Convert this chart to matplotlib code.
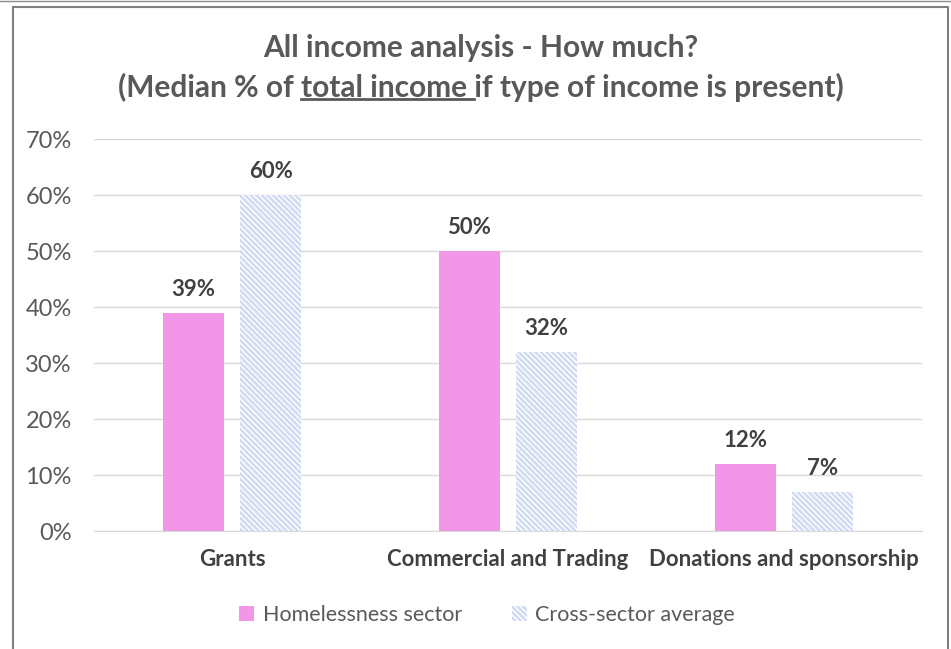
import numpy as np
import matplotlib
matplotlib.use("Agg")
import matplotlib.pyplot as plt
from matplotlib.lines import Line2D

# -------------------------------
# Data
# -------------------------------
categories = ["Grants", "Commercial and Trading", "Donations and sponsorship"]
homelessness = [0.39, 0.50, 0.12]
cross_sector = [0.60, 0.32, 0.07]
series_names = ["Homelessness sector", "Cross-sector average"]
yticks = [0, 0.1, 0.2, 0.3, 0.4, 0.5, 0.6, 0.7]

pink = "#F297E8"
hatch_col = "#D0DBF1"
text_col = "#595959"
dark_col = "#404040"

plt.rcParams["font.family"] = ["Lato", "DejaVu Sans"]
plt.rcParams["hatch.linewidth"] = 1.8
plt.rcParams["hatch.color"] = hatch_col

fig = plt.figure(figsize=(9.51, 6.49), dpi=100)
ax = fig.add_axes([94 / 951, 1 - 531 / 649, 828 / 951, 392 / 649])

x = np.arange(len(categories))
w = 0.22
gap = 0.06
b1 = ax.bar(x - (w + gap) / 2, homelessness, w, color=pink, linewidth=0,
            label=series_names[0])
b2 = ax.bar(x + (w + gap) / 2, cross_sector, w, facecolor="white",
            edgecolor=hatch_col, hatch="\\\\\\\\\\\\", linewidth=0,
            label=series_names[1])

for bars, vals in [(b1, homelessness), (b2, cross_sector)]:
    for r, v in zip(bars, vals):
        ax.text(r.get_x() + r.get_width() / 2, v + 0.023, f"{v:.0%}",
                ha="center", va="bottom", fontsize=16, fontweight="bold",
                color=dark_col)

ax.set_xlim(-0.5, len(categories) - 0.5)
ax.set_ylim(0, 0.7)
ax.set_yticks(yticks)
ax.set_yticklabels([f"{t:.0%}" for t in yticks])
ax.set_xticks(x)
ax.set_xticklabels(categories, fontweight="bold", fontsize=16, color=dark_col)
ax.tick_params(axis="y", length=0, pad=16, labelsize=17, labelcolor=text_col)
ax.tick_params(axis="x", length=0, pad=13)
ax.yaxis.grid(True, color="#D9D9D9", linewidth=1)
ax.set_axisbelow(True)
for s in ["top", "right", "left"]:
    ax.spines[s].set_visible(False)
ax.spines["bottom"].set_color("#D9D9D9")

# -------------------------------
# Title with underlined part
# -------------------------------
cx = 481 / 951
tsize = 21.5
fig.text(cx, 1 - 48 / 649, "All income analysis - How much?", ha="center",
         va="center", fontsize=tsize, fontweight="bold", color=text_col)
line2 = "(Median % of total income if type of income is present)"
t2 = fig.text(cx, 1 - 87 / 649, line2, ha="center", va="center",
              fontsize=tsize, fontweight="bold", color=text_col)
fig.canvas.draw()
r = fig.canvas.get_renderer()
full = t2.get_window_extent(r)
tmp1 = fig.text(0, 0, "(Median % of ", fontsize=tsize, fontweight="bold")
tmp2 = fig.text(0, 0, "(Median % of total income ", fontsize=tsize, fontweight="bold")
w1 = tmp1.get_window_extent(r).width
w2 = tmp2.get_window_extent(r).width
tmp1.remove()
tmp2.remove()
W, H = fig.bbox.width, fig.bbox.height
uy = (full.y0 + 3) / H
fig.add_artist(Line2D([(full.x0 + w1) / W, (full.x0 + w2) / W], [uy, uy],
                      color=text_col, linewidth=2))

# -------------------------------
# Legend
# -------------------------------
fig.legend(handles=[b1, b2], loc="center", bbox_to_anchor=(487 / 951, 1 - 615 / 649),
           ncol=2, frameon=False, fontsize=15.5, labelcolor=text_col,
           handlelength=0.7, handleheight=0.7, handletextpad=0.4,
           columnspacing=2.3)

# -------------------------------
# Frame lines
# -------------------------------
fig.add_artist(Line2D([0, 1], [1 - 1 / 649, 1 - 1 / 649], color="#8C8C8C", linewidth=1))
fig.add_artist(Line2D([13 / 951, 13 / 951, 948 / 951, 948 / 951],
                      [0, 1 - 7 / 649, 1 - 7 / 649, 0], color="#7F7F7F", linewidth=1.5))

fig.savefig("out.png", dpi=100)
